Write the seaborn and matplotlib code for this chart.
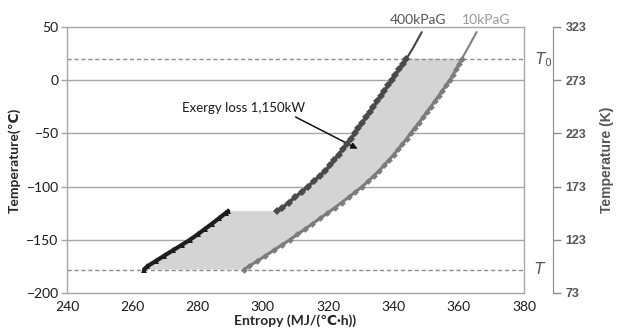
import numpy as np
import pandas as pd
import matplotlib
matplotlib.use('Agg')
import matplotlib.pyplot as plt
import seaborn as sns

# LNG heating curves (entropy vs temperature)
t_low = [-178, -175, -170, -165, -160, -155, -150, -145, -140, -135, -130, -125, -123]
s_low = [263.6, 264.6, 267.2, 269.8, 272.4, 275.1, 277.7, 280.0, 282.2, 284.4, 286.5, 288.6, 289.4]

t_400 = [-123, -120, -115, -110, -105, -100, -95, -90, -85, -80, -75, -70, -65, -60, -55,
         -50, -45, -40, -35, -30, -25, -20, -15, -10, -5, 0, 5, 10, 15, 20]
s_400 = [304.5, 305.9, 307.9, 309.9, 311.9, 313.8, 315.6, 317.4, 319.2, 320.6, 321.9, 323.2,
         324.5, 325.7, 327.0, 328.2, 329.3, 330.5, 331.6, 332.7, 333.9, 335.0, 336.1, 337.2,
         338.4, 339.5, 340.6, 341.7, 342.9, 344.0]
t_400_ext = [20, 25, 30, 35, 40, 45]
s_400_ext = [344.0, 345.0, 346.0, 346.9, 347.8, 348.7]

t_10 = [-178, -175, -170, -165, -160, -155, -150, -145, -140, -135, -130, -125, -120, -115,
        -110, -105, -100, -95, -90, -85, -80, -75, -70, -65, -60, -55, -50, -45, -40, -35,
        -30, -25, -20, -15, -10, -5, 0, 5, 10, 15, 20]
s_10 = [294.2, 295.7, 298.3, 300.8, 303.3, 305.8, 308.3, 310.6, 312.9, 315.2, 317.5, 319.8,
        322.0, 324.2, 326.3, 328.4, 330.5, 332.3, 334.0, 335.7, 337.2, 338.7, 340.1, 341.5,
        342.8, 344.1, 345.3, 346.6, 347.9, 349.1, 350.3, 351.5, 352.7, 353.9, 355.0, 356.2,
        357.3, 358.3, 359.2, 360.1, 361.0]
t_10_ext = [20, 25, 30, 35, 40, 45]
s_10_ext = [361.0, 361.9, 362.8, 363.7, 364.6, 365.5]

T0 = 20
T_lng = -178
y_ticks = [-200, -150, -100, -50, 0, 50]
x_ticks = [240, 260, 280, 300, 320, 340, 360, 380]
k_ticks = [73, 123, 173, 223, 273, 323]

sns.set_style('white')
plt.rcParams['font.family'] = ['Lato', 'DejaVu Sans']
plt.rcParams['mathtext.fontset'] = 'dejavusans'

fig = plt.figure(figsize=(6.2, 3.36), dpi=100)
ax = fig.add_axes([0.108, 0.128, 0.737, 0.792])

# shaded exergy-loss region
poly_s = s_low + s_400 + s_10[::-1]
poly_t = t_low + t_400 + t_10[::-1]
ax.fill(poly_s, poly_t, color='#d4d4d4', lw=0, zorder=1)

for y in [-150, -100, -50, 0]:
    ax.axhline(y, color='#a6a6a6', lw=1, zorder=0)
for y in [T0, T_lng]:
    ax.axhline(y, color='#8c8c8c', lw=1, ls=(0, (3, 2)), zorder=2)

df_low = pd.DataFrame({'s': s_low, 't': t_low})
df_400 = pd.DataFrame({'s': s_400, 't': t_400})
df_10 = pd.DataFrame({'s': s_10, 't': t_10})

ax.plot(s_400_ext, t_400_ext, color='#444444', lw=1.5, zorder=3)
ax.plot(s_10_ext, t_10_ext, color='#808080', lw=1.5, zorder=3)
sns.lineplot(data=df_low, x='s', y='t', sort=False, estimator=None, ax=ax, color='#1e1e1e',
             lw=3, marker='^', markersize=5, markeredgewidth=0, zorder=4)
sns.lineplot(data=df_400, x='s', y='t', sort=False, estimator=None, ax=ax, color='#4a4a4a',
             lw=2.5, marker='D', markersize=3.8, markeredgewidth=0, zorder=4)
sns.lineplot(data=df_10, x='s', y='t', sort=False, estimator=None, ax=ax, color='#7c7c7c',
             lw=2.2, marker='D', markersize=3.4, markeredgewidth=0, zorder=4)

ax.set_xlim(240, 380)
ax.set_ylim(-200, 50)
ax.set_xticks(x_ticks)
ax.set_yticks(y_ticks)
for sp in ax.spines.values():
    sp.set_color('#a6a6a6')
    sp.set_linewidth(1)
ax.tick_params(axis='both', direction='out', length=4, width=1, color='#a6a6a6',
               labelsize=10, labelcolor='#1a1a1a', pad=2)
ax.set_xlabel('Entropy (MJ/(℃·h))', fontsize=10, fontweight='bold', labelpad=1)
ax.set_ylabel('Temperature(℃)', fontsize=10, fontweight='bold', labelpad=4)

ax.text(275.2, -26, 'Exergy loss 1,150kW', fontsize=9.5, va='center', ha='left', color='#1a1a1a')
ax.annotate('', xy=(329.8, -65.7), xytext=(309.3, -33.5),
            arrowprops=dict(arrowstyle='-|>', color='#111111', lw=1.1, mutation_scale=9))

ax.text(347.5, 51, '400kPaG', fontsize=10, color='#555555', ha='center', va='bottom', clip_on=False)
ax.text(368.5, 51, '10kPaG', fontsize=10, color='#999999', ha='center', va='bottom', clip_on=False)
ax.text(386, T0 - 1, '$T_0$', fontsize=11, color='#555555', ha='center', va='center', clip_on=False)
ax.text(385, T_lng + 1, '$T$', fontsize=11, color='#555555', ha='center', va='center', clip_on=False)

# Kelvin axis on the right
ax2 = ax.twinx()
ax2.set_ylim(73, 323)
ax2.set_yticks(k_ticks)
for name in ['top', 'left', 'bottom']:
    ax2.spines[name].set_visible(False)
ax2.spines['right'].set_position(('outward', 21))
ax2.spines['right'].set_color('#8c8c8c')
ax2.tick_params(axis='y', direction='out', length=6, width=1, color='#8c8c8c',
                labelsize=9, labelcolor='#555555', pad=3)
for lab in ax2.get_yticklabels():
    lab.set_family(['Liberation Sans Narrow', 'Liberation Sans'])
    lab.set_fontweight('bold')
ax2.set_ylabel('Temperature (K)', fontsize=10, color='#555555', labelpad=10,
               fontweight='bold', family=['Liberation Sans Narrow', 'Liberation Sans'])

fig.savefig('out.png', dpi=100)
plt.close(fig)
